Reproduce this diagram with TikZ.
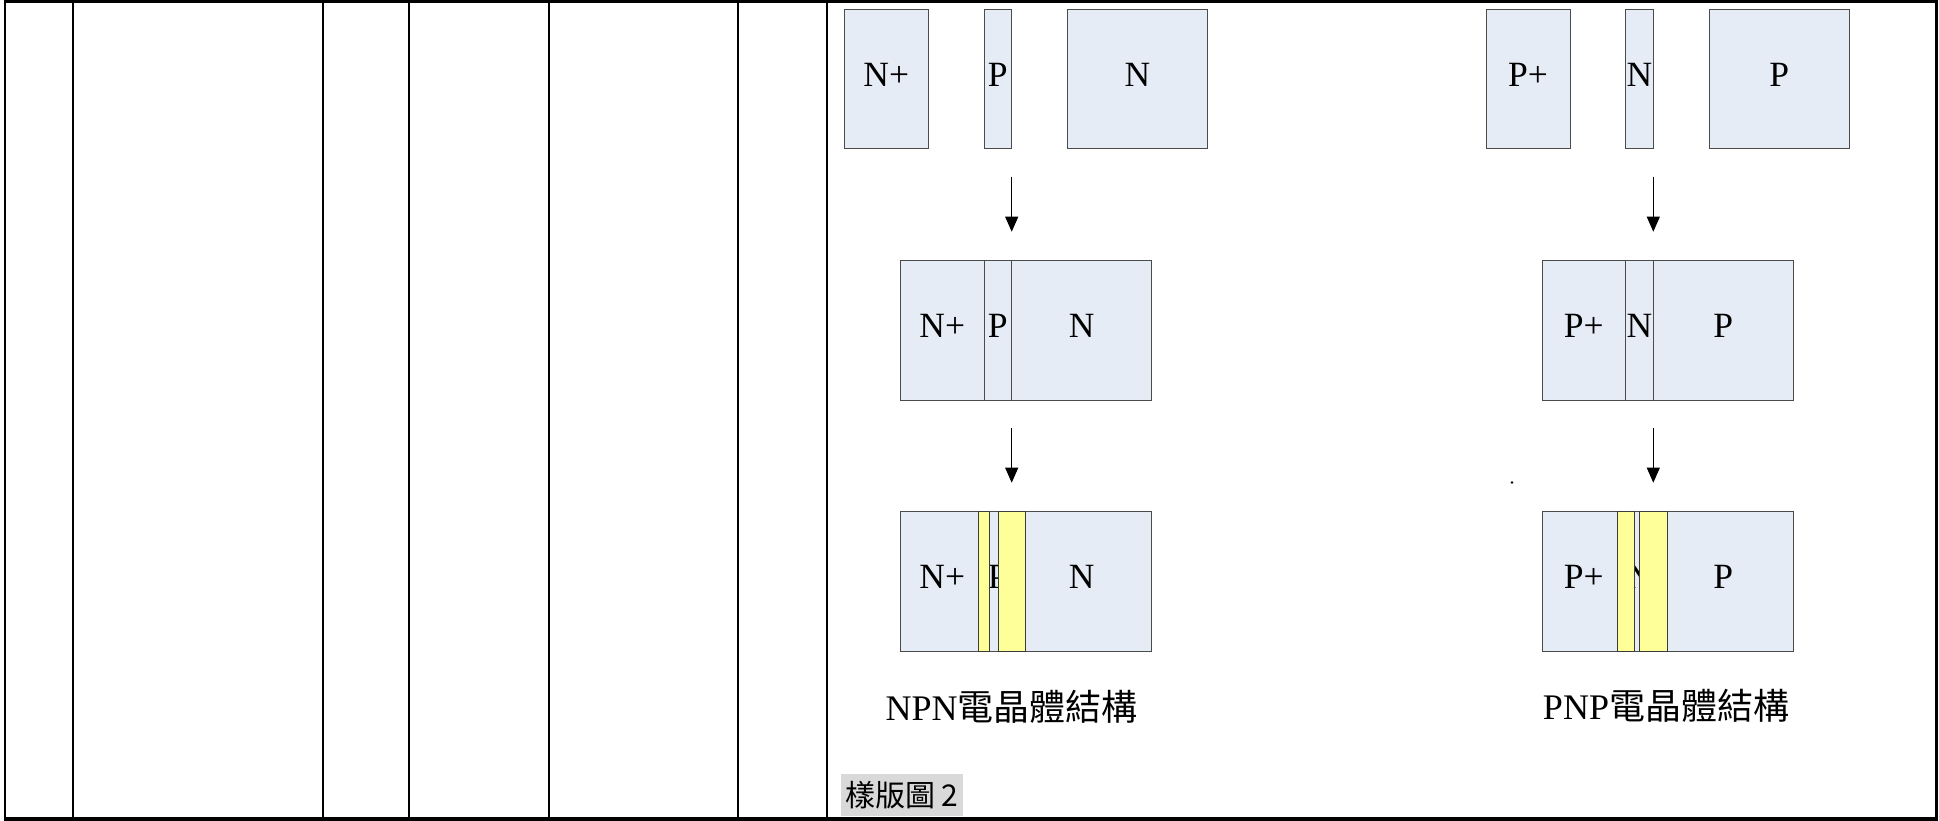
\documentclass[tikz,border=0pt]{standalone}
\usepackage{fontspec}
\setmainfont{Liberation Serif}
\newfontfamily\cjk{Noto Sans CJK TC}
\usetikzlibrary{arrows.meta}
\definecolor{cellfill}{RGB}{230,236,246}
\definecolor{cellline}{RGB}{75,75,75}
\definecolor{junc}{RGB}{255,255,153}
\definecolor{tagfill}{RGB}{217,217,217}
\newcommand\blk[5]{%
  \pgfmathsetmacro\blkw{#3-#2}%
  \node[#5, minimum width=\blkw pt, anchor=north west] (#1) at (#2,#4) {};}
\begin{document}
\begin{tikzpicture}[x=1pt,y=-1pt,
  region/.style={draw=cellline, fill=cellfill, line width=1pt, inner sep=0pt, outer sep=0pt, minimum height=139.7pt},
  jregion/.style={draw=cellline!80!black, fill=junc, line width=1pt, inner sep=0pt, outer sep=0pt, minimum height=139.7pt},
  lbl/.style={anchor=base, inner sep=0pt, font=\fontsize{35.5}{40}\selectfont},
  captext/.style={anchor=base, inner sep=0pt, font=\fontsize{36}{42}\selectfont},
  arr/.style={draw=black, line width=1pt, -{Triangle[length=15pt,width=13pt]}},
  tline/.style={draw=black, line width=2pt},
  bline/.style={draw=black, line width=3.5pt},
]
\useasboundingbox (0,0) rectangle (1939,821);
% table frame
\draw[tline] (5,2) -- (5,819);
\foreach \xx in {73,323,409,549,738,827}{\draw[tline] (\xx,2) -- (\xx,819);}
\draw[line width=3pt] (1936.5,1) -- (1936.5,820);
\draw[line width=3pt] (4,2) -- (1938,2);
\draw[bline] (4,819) -- (1938,819);

% ---------- NPN ----------
% row 1
\blk{n1a}{844.3}{928.3}{9.3}{region}
\blk{n1b}{984}{1011.7}{9.3}{region}
\blk{n1c}{1067.7}{1207.3}{9.3}{region}
\node[lbl] (tn1a) at (886.3,86.7) {N+};
\node[lbl] (tn1b) at (997.8,86.7) {P};
\node[lbl] (tn1c) at (1137.5,86.7) {N};
% row 2
\blk{n2a}{900.3}{984}{260.3}{region}
\blk{n2b}{984}{1011.7}{260.3}{region}
\blk{n2c}{1011.7}{1151.7}{260.3}{region}
\node[lbl] (tn2a) at (942.2,337.7) {N+};
\node[lbl] (tn2b) at (997.8,337.7) {P};
\node[lbl] (tn2c) at (1081.7,337.7) {N};
% row 3
\blk{n3a}{900.3}{984}{511.7}{region}
\blk{n3b}{984}{1011.7}{511.7}{region}
\blk{n3c}{1011.7}{1151.7}{511.7}{region}
\node[lbl] (tn3a) at (942.2,588.7) {N+};
\node[lbl] (tn3b) at (997.8,588.7) {P};
\node[lbl] (tn3c) at (1081.7,588.7) {N};
\blk{n3y1}{978.7}{989.3}{511.7}{jregion}
\blk{n3y2}{998.3}{1025.7}{511.7}{jregion}
% arrows
\coordinate (na1s) at (1011.7,176.7);
\coordinate (na1e) at (1011.7,231.7);
\coordinate (na2s) at (1011.7,427.7);
\coordinate (na2e) at (1011.7,482.7);
\draw[arr] (na1s) -- (na1e);
\draw[arr] (na2s) -- (na2e);
\node[captext] (ncap) at (1011.7,720) {NPN{\cjk 電晶體結構}};

% ---------- PNP ----------
\blk{p1a}{1486}{1570}{9.3}{region}
\blk{p1b}{1625.7}{1653.3}{9.3}{region}
\blk{p1c}{1709.3}{1849}{9.3}{region}
\node[lbl] (tp1a) at (1528,86.7) {P+};
\node[lbl] (tp1b) at (1639.5,86.7) {N};
\node[lbl] (tp1c) at (1779.2,86.7) {P};
\blk{p2a}{1542}{1625.7}{260.3}{region}
\blk{p2b}{1625.7}{1653.3}{260.3}{region}
\blk{p2c}{1653.3}{1793.3}{260.3}{region}
\node[lbl] (tp2a) at (1583.8,337.7) {P+};
\node[lbl] (tp2b) at (1639.5,337.7) {N};
\node[lbl] (tp2c) at (1723.3,337.7) {P};
\blk{p3a}{1542}{1625.7}{511.7}{region}
\blk{p3b}{1625.7}{1653.3}{511.7}{region}
\blk{p3c}{1653.3}{1793.3}{511.7}{region}
\node[lbl] (tp3a) at (1583.8,588.7) {P+};
\node[lbl] (tp3b) at (1639.5,588.7) {N};
\node[lbl] (tp3c) at (1723.3,588.7) {P};
\blk{p3y1}{1617.7}{1634}{511.7}{jregion}
\blk{p3y2}{1639.3}{1667.3}{511.7}{jregion}
\coordinate (pa1s) at (1653.3,176.7);
\coordinate (pa1e) at (1653.3,231.7);
\coordinate (pa2s) at (1653.3,427.7);
\coordinate (pa2e) at (1653.3,482.7);
\draw[arr] (pa1s) -- (pa1e);
\draw[arr] (pa2s) -- (pa2e);
\node[captext] (pcap) at (1666,719) {PNP{\cjk 電晶體結構}};
\fill (1512,482.5) circle (1.3);

% template tag
\node[fill=tagfill, minimum width=121.3pt, minimum height=41.7pt, inner sep=0pt, anchor=north west,
      font=\cjk\fontsize{30}{34}\selectfont] (tag) at (841,774) {樣版圖~2};
\end{tikzpicture}
\end{document}
